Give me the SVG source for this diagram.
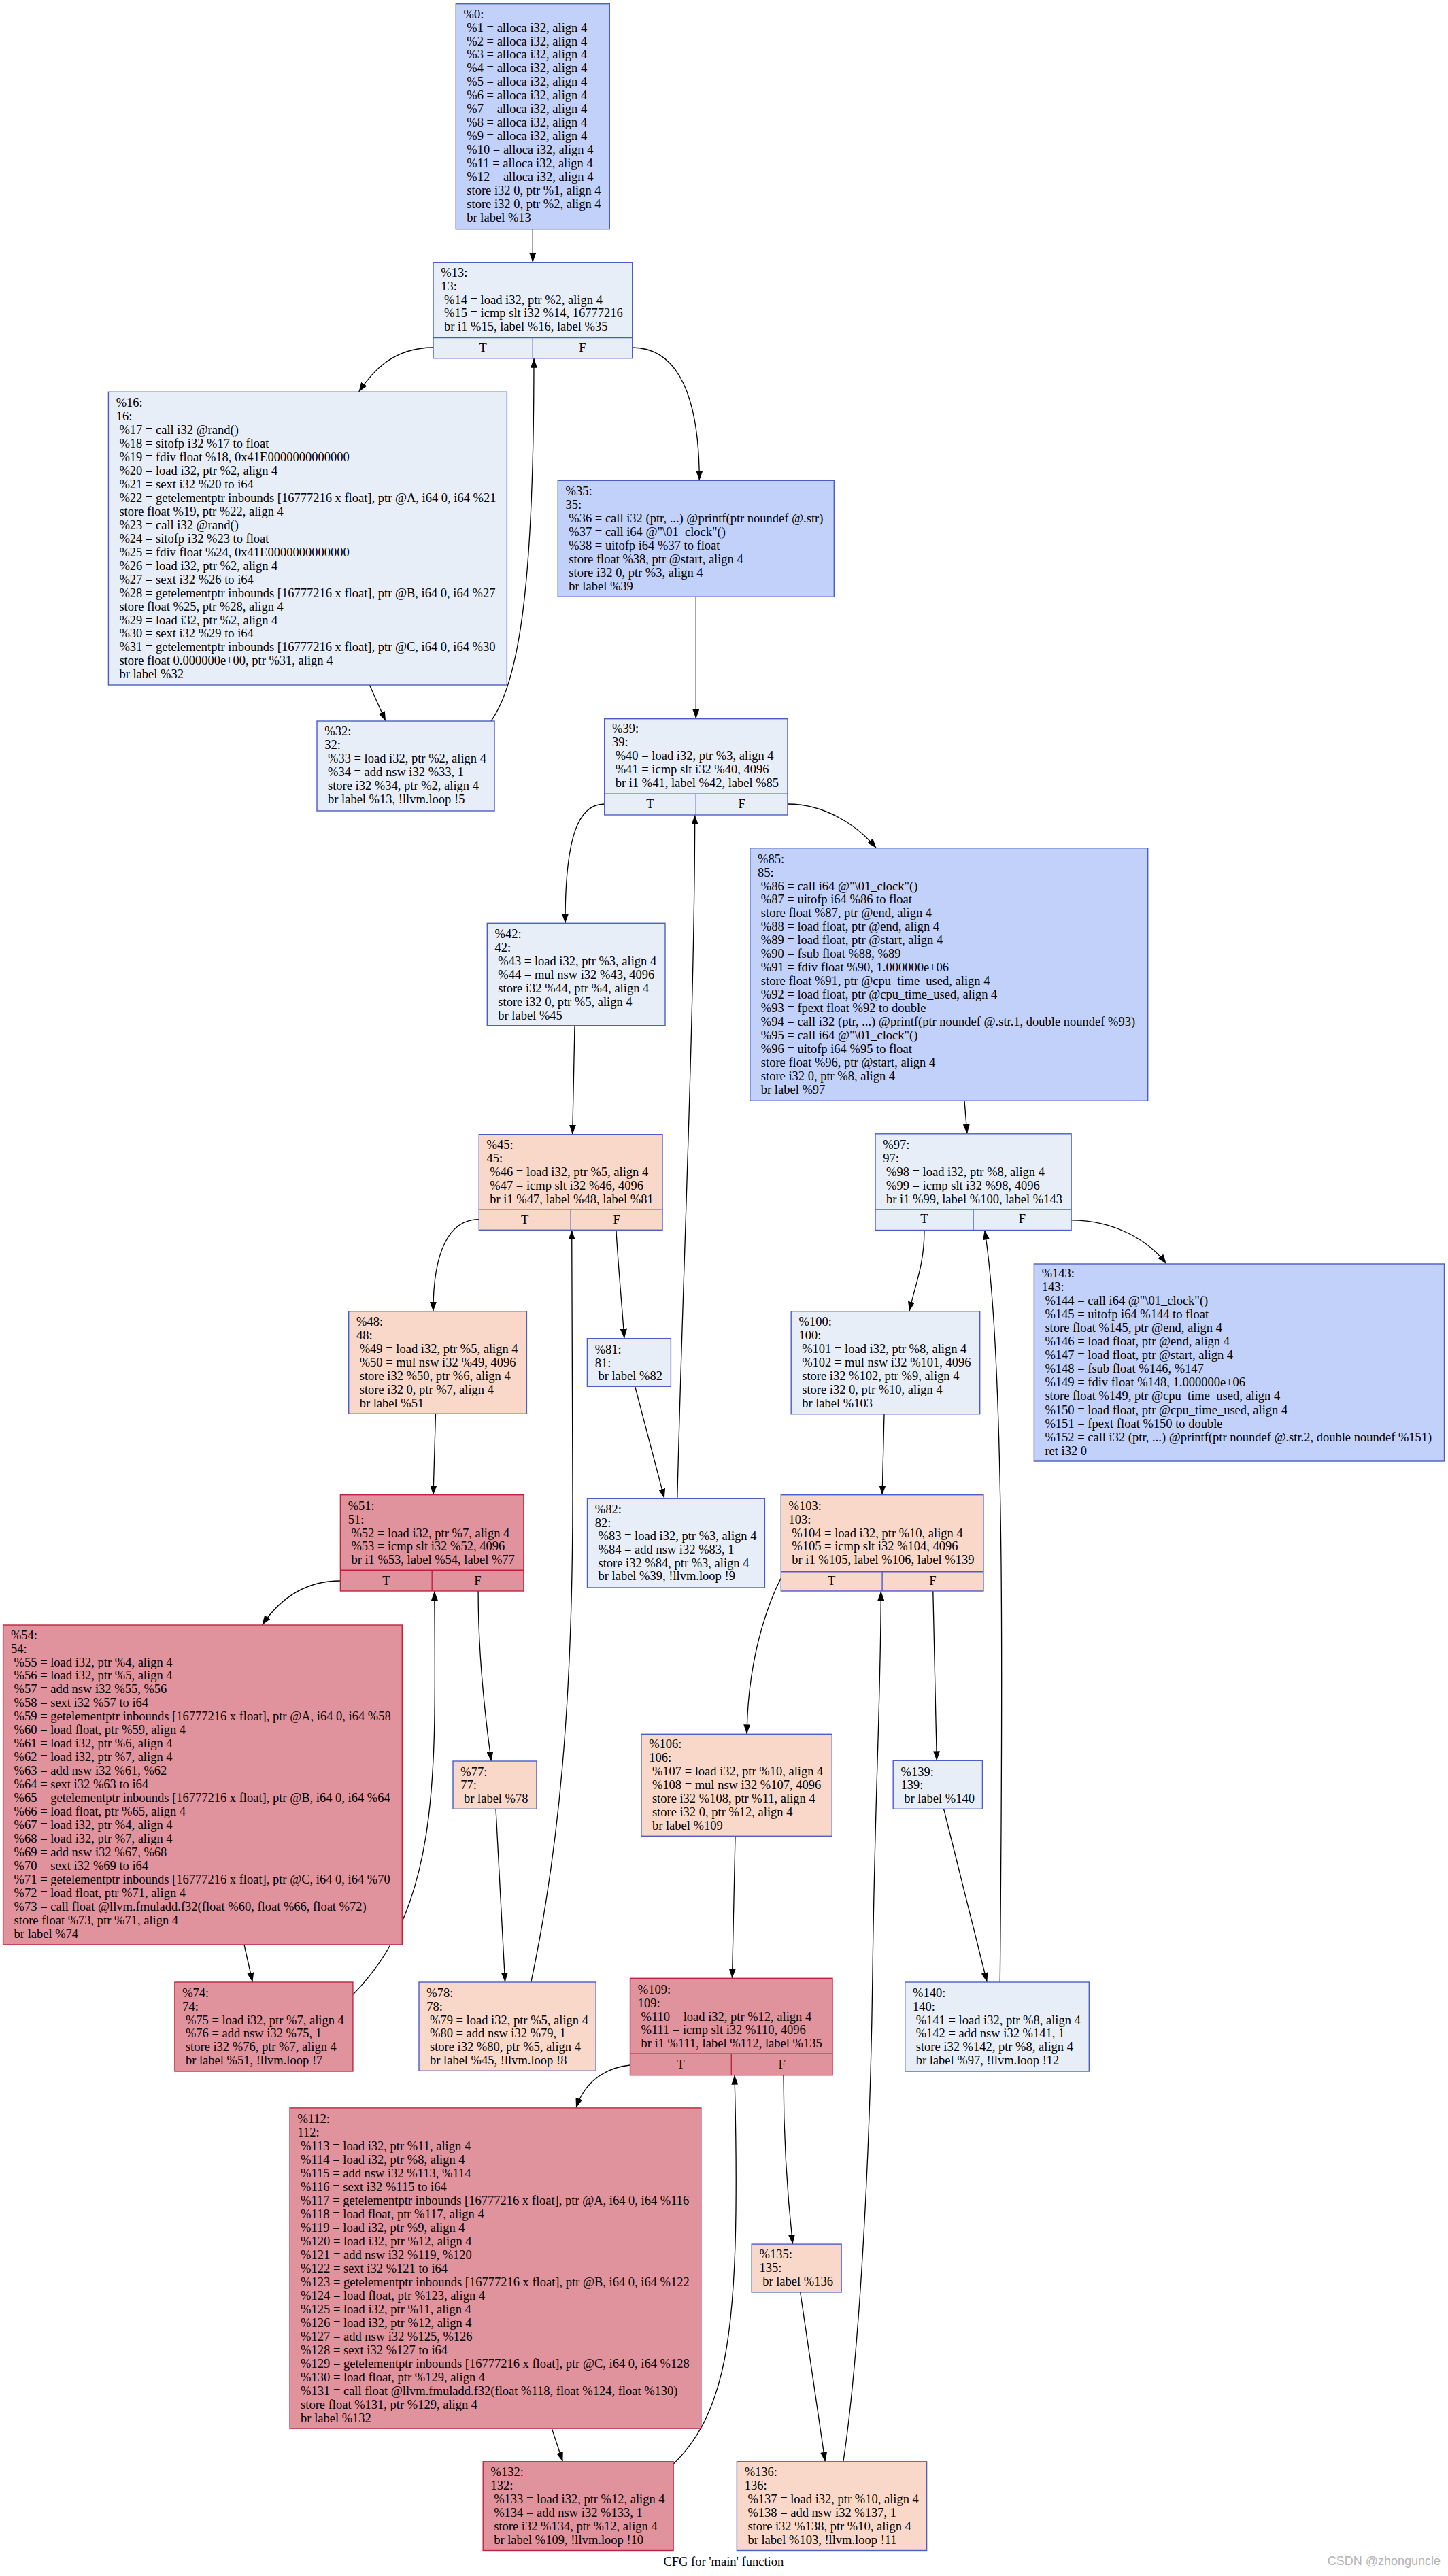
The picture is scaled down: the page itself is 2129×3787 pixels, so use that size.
<svg xmlns="http://www.w3.org/2000/svg" width="2129" height="3787" viewBox="0 0 2129 3787">
<defs>
<marker id="ah" markerUnits="userSpaceOnUse" markerWidth="14" markerHeight="10" refX="14" refY="5" orient="auto"><path d="M0,0 L14,5 L0,10 z" fill="#000"/></marker>
<style>
.t{font-family:"Liberation Serif","Times New Roman",serif;font-size:18.5px;fill:#000}
.m{text-anchor:middle}
.cb{stroke:#4a5dc9;stroke-width:1.4}
.hb{stroke:#c0233f;stroke-width:1.4}
.f1{fill:#c2d1f9}.f2{fill:#e8eef8}.f3{fill:#f9d8ca}.f4{fill:#e0929d}
.e{fill:none;stroke:#000;stroke-width:1.3;marker-end:url(#ah)}
.wm{font-family:"Liberation Sans",Arial,sans-serif;font-size:18px;fill:#b4b4b4;text-anchor:end}
</style>
</defs>
<rect width="2129" height="3787" fill="#fff"/>
<g id="edges">
<path class="e" d="M783.3,336.7 L783.3,385.7"/>
<path class="e" d="M637,511 C575,511 545,550 527.5,576.3"/>
<path class="e" d="M929.7,511 C985,511 1028,560 1028.3,706.3"/>
<path class="e" d="M543.3,1007 L567,1060"/>
<path class="e" d="M722,1060 C765,1000 785,850 785,526.7"/>
<path class="e" d="M1023.3,877.3 L1023.3,1056.7"/>
<path class="e" d="M888.7,1182 C850,1182 831,1230 831,1357.3"/>
<path class="e" d="M1158,1182 C1215,1182 1262,1215 1288.4,1246.7"/>
<path class="e" d="M995.8,2202.7 C1003,1900 1021,1500 1021.7,1198"/>
<path class="e" d="M845,1507.7 L841.7,1667.7"/>
<path class="e" d="M1418,1618.3 L1421.9,1666.8"/>
<path class="e" d="M704.3,1792.7 C660,1792.7 637,1840 636.9,1927.7"/>
<path class="e" d="M906,1808.3 C908,1850 913,1900 917.9,1967.7"/>
<path class="e" d="M780.8,2914 C822,2720 842,2500 842,2200 L840.7,1808.3"/>
<path class="e" d="M1359,1808.5 C1359,1860 1345,1890 1337,1927.7"/>
<path class="e" d="M1575.1,1793.8 C1640,1793.8 1690,1825 1714.8,1858"/>
<path class="e" d="M1470.3,2914 C1474,2500 1478,2000 1447.8,1808.5"/>
<path class="e" d="M640.5,2078.3 L637,2197.7"/>
<path class="e" d="M933.7,2038.3 L976.8,2202.7"/>
<path class="e" d="M1300,2078.7 L1297.1,2197.7"/>
<path class="e" d="M500.4,2324 C440,2324 405,2360 385.4,2389"/>
<path class="e" d="M703.1,2339 C703,2420 710,2500 722.3,2589"/>
<path class="e" d="M359,2859 L371.4,2914"/>
<path class="e" d="M518.9,2932.3 C650,2800 640,2600 638.8,2339"/>
<path class="e" d="M729,2659.3 L742.6,2914"/>
<path class="e" d="M1148.3,2320 C1138,2340 1100,2420 1098,2549.3"/>
<path class="e" d="M1371.8,2339 L1377.3,2588.3"/>
<path class="e" d="M1239.9,3618.8 C1265,3450 1280,3150 1283,2900 C1286,2650 1295,2500 1295.3,2339"/>
<path class="e" d="M1081,2699.3 L1076.5,2908.3"/>
<path class="e" d="M1387.6,2659.3 L1451.2,2914"/>
<path class="e" d="M926.5,3036 C885,3040 858,3065 847,3098.9"/>
<path class="e" d="M1152,3050.7 C1152,3150 1158,3230 1165.5,3299.1"/>
<path class="e" d="M811.3,3570.1 L827.4,3618.8"/>
<path class="e" d="M990.1,3622.4 C1060,3555 1080,3450 1082,3250 C1083,3150 1081,3100 1080,3050.7"/>
<path class="e" d="M1176.7,3369.9 L1213.2,3618.8"/>
</g>
<g id="n0"><rect class="cb f1" x="670.3" y="5.7" width="226" height="331"/>
<text class="t"><tspan x="681.6" y="26.6">%0:</tspan><tspan x="686.3" dy="19.95">%1 = alloca i32, align 4</tspan><tspan x="686.3" dy="19.95">%2 = alloca i32, align 4</tspan><tspan x="686.3" dy="19.95">%3 = alloca i32, align 4</tspan><tspan x="686.3" dy="19.95">%4 = alloca i32, align 4</tspan><tspan x="686.3" dy="19.95">%5 = alloca i32, align 4</tspan><tspan x="686.3" dy="19.95">%6 = alloca i32, align 4</tspan><tspan x="686.3" dy="19.95">%7 = alloca i32, align 4</tspan><tspan x="686.3" dy="19.95">%8 = alloca i32, align 4</tspan><tspan x="686.3" dy="19.95">%9 = alloca i32, align 4</tspan><tspan x="686.3" dy="19.95">%10 = alloca i32, align 4</tspan><tspan x="686.3" dy="19.95">%11 = alloca i32, align 4</tspan><tspan x="686.3" dy="19.95">%12 = alloca i32, align 4</tspan><tspan x="686.3" dy="19.95">store i32 0, ptr %1, align 4</tspan><tspan x="686.3" dy="19.95">store i32 0, ptr %2, align 4</tspan><tspan x="686.3" dy="19.95">br label %13</tspan></text></g>
<g id="n13"><rect class="cb f2" x="637" y="385.7" width="292.7" height="141"/><path class="cb" d="M637,496.6 H929.7 M783.3,496.6 V526.7"/>
<text class="t"><tspan x="648.3" y="406.9">%13:</tspan><tspan x="648.3" dy="19.85">13:</tspan><tspan x="653" dy="19.85">%14 = load i32, ptr %2, align 4</tspan><tspan x="653" dy="19.85">%15 = icmp slt i32 %14, 16777216</tspan><tspan x="653" dy="19.85">br i1 %15, label %16, label %35</tspan></text>
<text class="t m" x="710.2" y="517.3">T</text><text class="t m" x="856.5" y="517.3">F</text></g>
<g id="n16"><rect class="cb f2" x="159.4" y="576.3" width="586" height="430.7"/>
<text class="t"><tspan x="170.7" y="598">%16:</tspan><tspan x="170.7" dy="19.97">16:</tspan><tspan x="175.4" dy="19.97">%17 = call i32 @rand()</tspan><tspan x="175.4" dy="19.97">%18 = sitofp i32 %17 to float</tspan><tspan x="175.4" dy="19.97">%19 = fdiv float %18, 0x41E0000000000000</tspan><tspan x="175.4" dy="19.97">%20 = load i32, ptr %2, align 4</tspan><tspan x="175.4" dy="19.97">%21 = sext i32 %20 to i64</tspan><tspan x="175.4" dy="19.97">%22 = getelementptr inbounds [16777216 x float], ptr @A, i64 0, i64 %21</tspan><tspan x="175.4" dy="19.97">store float %19, ptr %22, align 4</tspan><tspan x="175.4" dy="19.97">%23 = call i32 @rand()</tspan><tspan x="175.4" dy="19.97">%24 = sitofp i32 %23 to float</tspan><tspan x="175.4" dy="19.97">%25 = fdiv float %24, 0x41E0000000000000</tspan><tspan x="175.4" dy="19.97">%26 = load i32, ptr %2, align 4</tspan><tspan x="175.4" dy="19.97">%27 = sext i32 %26 to i64</tspan><tspan x="175.4" dy="19.97">%28 = getelementptr inbounds [16777216 x float], ptr @B, i64 0, i64 %27</tspan><tspan x="175.4" dy="19.97">store float %25, ptr %28, align 4</tspan><tspan x="175.4" dy="19.97">%29 = load i32, ptr %2, align 4</tspan><tspan x="175.4" dy="19.97">%30 = sext i32 %29 to i64</tspan><tspan x="175.4" dy="19.97">%31 = getelementptr inbounds [16777216 x float], ptr @C, i64 0, i64 %30</tspan><tspan x="175.4" dy="19.97">store float 0.000000e+00, ptr %31, align 4</tspan><tspan x="175.4" dy="19.97">br label %32</tspan></text></g>
<g id="n32"><rect class="cb f2" x="466" y="1060" width="261" height="132"/>
<text class="t"><tspan x="477.3" y="1081.3">%32:</tspan><tspan x="477.3" dy="19.95">32:</tspan><tspan x="482" dy="19.95">%33 = load i32, ptr %2, align 4</tspan><tspan x="482" dy="19.95">%34 = add nsw i32 %33, 1</tspan><tspan x="482" dy="19.95">store i32 %34, ptr %2, align 4</tspan><tspan x="482" dy="19.95">br label %13, !llvm.loop !5</tspan></text></g>
<g id="n35"><rect class="cb f1" x="820.3" y="706.3" width="406" height="171"/>
<text class="t"><tspan x="831.6" y="728">%35:</tspan><tspan x="831.6" dy="19.95">35:</tspan><tspan x="836.3" dy="19.95">%36 = call i32 (ptr, ...) @printf(ptr noundef @.str)</tspan><tspan x="836.3" dy="19.95">%37 = call i64 @"\01_clock"()</tspan><tspan x="836.3" dy="19.95">%38 = uitofp i64 %37 to float</tspan><tspan x="836.3" dy="19.95">store float %38, ptr @start, align 4</tspan><tspan x="836.3" dy="19.95">store i32 0, ptr %3, align 4</tspan><tspan x="836.3" dy="19.95">br label %39</tspan></text></g>
<g id="n39"><rect class="cb f2" x="888.7" y="1056.7" width="269.3" height="141.3"/><path class="cb" d="M888.7,1167.3 H1158 M1023.3,1167.3 V1198"/>
<text class="t"><tspan x="900" y="1077.3">%39:</tspan><tspan x="900" dy="19.9">39:</tspan><tspan x="904.7" dy="19.9">%40 = load i32, ptr %3, align 4</tspan><tspan x="904.7" dy="19.9">%41 = icmp slt i32 %40, 4096</tspan><tspan x="904.7" dy="19.9">br i1 %41, label %42, label %85</tspan></text>
<text class="t m" x="956" y="1188">T</text><text class="t m" x="1090.6" y="1188">F</text></g>
<g id="n85"><rect class="cb f1" x="1102.8" y="1246.7" width="584.9" height="371.6"/>
<text class="t"><tspan x="1114.1" y="1268.6">%85:</tspan><tspan x="1114.1" dy="19.96">85:</tspan><tspan x="1118.8" dy="19.96">%86 = call i64 @"\01_clock"()</tspan><tspan x="1118.8" dy="19.96">%87 = uitofp i64 %86 to float</tspan><tspan x="1118.8" dy="19.96">store float %87, ptr @end, align 4</tspan><tspan x="1118.8" dy="19.96">%88 = load float, ptr @end, align 4</tspan><tspan x="1118.8" dy="19.96">%89 = load float, ptr @start, align 4</tspan><tspan x="1118.8" dy="19.96">%90 = fsub float %88, %89</tspan><tspan x="1118.8" dy="19.96">%91 = fdiv float %90, 1.000000e+06</tspan><tspan x="1118.8" dy="19.96">store float %91, ptr @cpu_time_used, align 4</tspan><tspan x="1118.8" dy="19.96">%92 = load float, ptr @cpu_time_used, align 4</tspan><tspan x="1118.8" dy="19.96">%93 = fpext float %92 to double</tspan><tspan x="1118.8" dy="19.96">%94 = call i32 (ptr, ...) @printf(ptr noundef @.str.1, double noundef %93)</tspan><tspan x="1118.8" dy="19.96">%95 = call i64 @"\01_clock"()</tspan><tspan x="1118.8" dy="19.96">%96 = uitofp i64 %95 to float</tspan><tspan x="1118.8" dy="19.96">store float %96, ptr @start, align 4</tspan><tspan x="1118.8" dy="19.96">store i32 0, ptr %8, align 4</tspan><tspan x="1118.8" dy="19.96">br label %97</tspan></text></g>
<g id="n42"><rect class="cb f2" x="716.3" y="1357.3" width="261.7" height="150.4"/>
<text class="t"><tspan x="727.6" y="1378.6">%42:</tspan><tspan x="727.6" dy="20">42:</tspan><tspan x="732.3" dy="20">%43 = load i32, ptr %3, align 4</tspan><tspan x="732.3" dy="20">%44 = mul nsw i32 %43, 4096</tspan><tspan x="732.3" dy="20">store i32 %44, ptr %4, align 4</tspan><tspan x="732.3" dy="20">store i32 0, ptr %5, align 4</tspan><tspan x="732.3" dy="20">br label %45</tspan></text></g>
<g id="n45"><rect class="cb f3" x="704.3" y="1667.7" width="269.7" height="140.6"/><path class="cb" d="M704.3,1777.7 H974 M839.2,1777.7 V1808.3"/>
<text class="t"><tspan x="715.6" y="1688.6">%45:</tspan><tspan x="715.6" dy="20.1">45:</tspan><tspan x="720.3" dy="20.1">%46 = load i32, ptr %5, align 4</tspan><tspan x="720.3" dy="20.1">%47 = icmp slt i32 %46, 4096</tspan><tspan x="720.3" dy="20.1">br i1 %47, label %48, label %81</tspan></text>
<text class="t m" x="771.7" y="1798.8">T</text><text class="t m" x="906.6" y="1798.8">F</text></g>
<g id="n97"><rect class="cb f2" x="1287" y="1666.8" width="288.1" height="141.7"/><path class="cb" d="M1287,1778 H1575.1 M1431,1778 V1808.5"/>
<text class="t"><tspan x="1298.3" y="1688.9">%97:</tspan><tspan x="1298.3" dy="19.9">97:</tspan><tspan x="1303" dy="19.9">%98 = load i32, ptr %8, align 4</tspan><tspan x="1303" dy="19.9">%99 = icmp slt i32 %98, 4096</tspan><tspan x="1303" dy="19.9">br i1 %99, label %100, label %143</tspan></text>
<text class="t m" x="1359" y="1798.1">T</text><text class="t m" x="1503" y="1798.1">F</text></g>
<g id="n143"><rect class="cb f1" x="1520.4" y="1858" width="603.1" height="290"/>
<text class="t"><tspan x="1531.7" y="1878.3">%143:</tspan><tspan x="1531.7" dy="20.02">143:</tspan><tspan x="1536.4" dy="20.02">%144 = call i64 @"\01_clock"()</tspan><tspan x="1536.4" dy="20.02">%145 = uitofp i64 %144 to float</tspan><tspan x="1536.4" dy="20.02">store float %145, ptr @end, align 4</tspan><tspan x="1536.4" dy="20.02">%146 = load float, ptr @end, align 4</tspan><tspan x="1536.4" dy="20.02">%147 = load float, ptr @start, align 4</tspan><tspan x="1536.4" dy="20.02">%148 = fsub float %146, %147</tspan><tspan x="1536.4" dy="20.02">%149 = fdiv float %148, 1.000000e+06</tspan><tspan x="1536.4" dy="20.02">store float %149, ptr @cpu_time_used, align 4</tspan><tspan x="1536.4" dy="20.02">%150 = load float, ptr @cpu_time_used, align 4</tspan><tspan x="1536.4" dy="20.02">%151 = fpext float %150 to double</tspan><tspan x="1536.4" dy="20.02">%152 = call i32 (ptr, ...) @printf(ptr noundef @.str.2, double noundef %151)</tspan><tspan x="1536.4" dy="20.02">ret i32 0</tspan></text></g>
<g id="n48"><rect class="cb f3" x="512.7" y="1927.7" width="261.7" height="150.6"/>
<text class="t"><tspan x="524" y="1948.6">%48:</tspan><tspan x="524" dy="20">48:</tspan><tspan x="528.7" dy="20">%49 = load i32, ptr %5, align 4</tspan><tspan x="528.7" dy="20">%50 = mul nsw i32 %49, 4096</tspan><tspan x="528.7" dy="20">store i32 %50, ptr %6, align 4</tspan><tspan x="528.7" dy="20">store i32 0, ptr %7, align 4</tspan><tspan x="528.7" dy="20">br label %51</tspan></text></g>
<g id="n81"><rect class="cb f2" x="863.4" y="1967.7" width="123" height="70.6"/>
<text class="t"><tspan x="874.7" y="1989.8">%81:</tspan><tspan x="874.7" dy="19.8">81:</tspan><tspan x="879.4" dy="19.8">br label %82</tspan></text></g>
<g id="n100"><rect class="cb f2" x="1163.2" y="1927.7" width="277.5" height="151"/>
<text class="t"><tspan x="1174.5" y="1948.6">%100:</tspan><tspan x="1174.5" dy="20">100:</tspan><tspan x="1179.2" dy="20">%101 = load i32, ptr %8, align 4</tspan><tspan x="1179.2" dy="20">%102 = mul nsw i32 %101, 4096</tspan><tspan x="1179.2" dy="20">store i32 %102, ptr %9, align 4</tspan><tspan x="1179.2" dy="20">store i32 0, ptr %10, align 4</tspan><tspan x="1179.2" dy="20">br label %103</tspan></text></g>
<g id="n51"><rect class="hb f4" x="500.4" y="2197.7" width="269.5" height="141.3"/><path class="hb" d="M500.4,2308.3 H769.9 M635.2,2308.3 V2339"/>
<text class="t"><tspan x="511.7" y="2220.3">%51:</tspan><tspan x="511.7" dy="19.7">51:</tspan><tspan x="516.4" dy="19.7">%52 = load i32, ptr %7, align 4</tspan><tspan x="516.4" dy="19.7">%53 = icmp slt i32 %52, 4096</tspan><tspan x="516.4" dy="19.7">br i1 %53, label %54, label %77</tspan></text>
<text class="t m" x="567.8" y="2330.1">T</text><text class="t m" x="702.5" y="2330.1">F</text></g>
<g id="n82"><rect class="cb f2" x="863.5" y="2202.7" width="260.9" height="131.3"/>
<text class="t"><tspan x="874.8" y="2224.8">%82:</tspan><tspan x="874.8" dy="19.7">82:</tspan><tspan x="879.5" dy="19.7">%83 = load i32, ptr %3, align 4</tspan><tspan x="879.5" dy="19.7">%84 = add nsw i32 %83, 1</tspan><tspan x="879.5" dy="19.7">store i32 %84, ptr %3, align 4</tspan><tspan x="879.5" dy="19.7">br label %39, !llvm.loop !9</tspan></text></g>
<g id="n103"><rect class="cb f3" x="1148.3" y="2197.7" width="297.6" height="141.3"/><path class="cb" d="M1148.3,2310.7 H1445.9 M1297.1,2310.7 V2339"/>
<text class="t"><tspan x="1159.6" y="2220.3">%103:</tspan><tspan x="1159.6" dy="19.7">103:</tspan><tspan x="1164.3" dy="19.7">%104 = load i32, ptr %10, align 4</tspan><tspan x="1164.3" dy="19.7">%105 = icmp slt i32 %104, 4096</tspan><tspan x="1164.3" dy="19.7">br i1 %105, label %106, label %139</tspan></text>
<text class="t m" x="1222.7" y="2330.4">T</text><text class="t m" x="1371.5" y="2330.4">F</text></g>
<g id="n54"><rect class="hb f4" x="4.6" y="2389" width="586.7" height="470"/>
<text class="t"><tspan x="15.9" y="2409.6">%54:</tspan><tspan x="15.9" dy="19.95">54:</tspan><tspan x="20.6" dy="19.95">%55 = load i32, ptr %4, align 4</tspan><tspan x="20.6" dy="19.95">%56 = load i32, ptr %5, align 4</tspan><tspan x="20.6" dy="19.95">%57 = add nsw i32 %55, %56</tspan><tspan x="20.6" dy="19.95">%58 = sext i32 %57 to i64</tspan><tspan x="20.6" dy="19.95">%59 = getelementptr inbounds [16777216 x float], ptr @A, i64 0, i64 %58</tspan><tspan x="20.6" dy="19.95">%60 = load float, ptr %59, align 4</tspan><tspan x="20.6" dy="19.95">%61 = load i32, ptr %6, align 4</tspan><tspan x="20.6" dy="19.95">%62 = load i32, ptr %7, align 4</tspan><tspan x="20.6" dy="19.95">%63 = add nsw i32 %61, %62</tspan><tspan x="20.6" dy="19.95">%64 = sext i32 %63 to i64</tspan><tspan x="20.6" dy="19.95">%65 = getelementptr inbounds [16777216 x float], ptr @B, i64 0, i64 %64</tspan><tspan x="20.6" dy="19.95">%66 = load float, ptr %65, align 4</tspan><tspan x="20.6" dy="19.95">%67 = load i32, ptr %4, align 4</tspan><tspan x="20.6" dy="19.95">%68 = load i32, ptr %7, align 4</tspan><tspan x="20.6" dy="19.95">%69 = add nsw i32 %67, %68</tspan><tspan x="20.6" dy="19.95">%70 = sext i32 %69 to i64</tspan><tspan x="20.6" dy="19.95">%71 = getelementptr inbounds [16777216 x float], ptr @C, i64 0, i64 %70</tspan><tspan x="20.6" dy="19.95">%72 = load float, ptr %71, align 4</tspan><tspan x="20.6" dy="19.95">%73 = call float @llvm.fmuladd.f32(float %60, float %66, float %72)</tspan><tspan x="20.6" dy="19.95">store float %73, ptr %71, align 4</tspan><tspan x="20.6" dy="19.95">br label %74</tspan></text></g>
<g id="n77"><rect class="cb f3" x="666" y="2589" width="123" height="70.3"/>
<text class="t"><tspan x="677.3" y="2610.6">%77:</tspan><tspan x="677.3" dy="19.8">77:</tspan><tspan x="682" dy="19.8">br label %78</tspan></text></g>
<g id="n106"><rect class="cb f3" x="942.9" y="2549.3" width="280.4" height="150"/>
<text class="t"><tspan x="954.2" y="2570.3">%106:</tspan><tspan x="954.2" dy="19.95">106:</tspan><tspan x="958.9" dy="19.95">%107 = load i32, ptr %10, align 4</tspan><tspan x="958.9" dy="19.95">%108 = mul nsw i32 %107, 4096</tspan><tspan x="958.9" dy="19.95">store i32 %108, ptr %11, align 4</tspan><tspan x="958.9" dy="19.95">store i32 0, ptr %12, align 4</tspan><tspan x="958.9" dy="19.95">br label %109</tspan></text></g>
<g id="n139"><rect class="cb f2" x="1313.2" y="2588.3" width="131.2" height="71"/>
<text class="t"><tspan x="1324.5" y="2610.6">%139:</tspan><tspan x="1324.5" dy="19.8">139:</tspan><tspan x="1329.2" dy="19.8">br label %140</tspan></text></g>
<g id="n74"><rect class="hb f4" x="256.9" y="2914" width="262" height="131"/>
<text class="t"><tspan x="268.2" y="2936.3">%74:</tspan><tspan x="268.2" dy="19.7">74:</tspan><tspan x="272.9" dy="19.7">%75 = load i32, ptr %7, align 4</tspan><tspan x="272.9" dy="19.7">%76 = add nsw i32 %75, 1</tspan><tspan x="272.9" dy="19.7">store i32 %76, ptr %7, align 4</tspan><tspan x="272.9" dy="19.7">br label %51, !llvm.loop !7</tspan></text></g>
<g id="n78"><rect class="cb f3" x="616" y="2914" width="260.2" height="130.3"/>
<text class="t"><tspan x="627.3" y="2936.3">%78:</tspan><tspan x="627.3" dy="19.7">78:</tspan><tspan x="632" dy="19.7">%79 = load i32, ptr %5, align 4</tspan><tspan x="632" dy="19.7">%80 = add nsw i32 %79, 1</tspan><tspan x="632" dy="19.7">store i32 %80, ptr %5, align 4</tspan><tspan x="632" dy="19.7">br label %45, !llvm.loop !8</tspan></text></g>
<g id="n109"><rect class="hb f4" x="926.5" y="2908.3" width="297.5" height="142.4"/><path class="hb" d="M926.5,3019.3 H1224 M1075.3,3019.3 V3050.7"/>
<text class="t"><tspan x="937.8" y="2931.3">%109:</tspan><tspan x="937.8" dy="19.6">109:</tspan><tspan x="942.5" dy="19.6">%110 = load i32, ptr %12, align 4</tspan><tspan x="942.5" dy="19.6">%111 = icmp slt i32 %110, 4096</tspan><tspan x="942.5" dy="19.6">br i1 %111, label %112, label %135</tspan></text>
<text class="t m" x="1000.9" y="3041.1">T</text><text class="t m" x="1149.6" y="3041.1">F</text></g>
<g id="n140"><rect class="cb f2" x="1330.7" y="2914" width="270.6" height="131"/>
<text class="t"><tspan x="1342" y="2936.3">%140:</tspan><tspan x="1342" dy="19.7">140:</tspan><tspan x="1346.7" dy="19.7">%141 = load i32, ptr %8, align 4</tspan><tspan x="1346.7" dy="19.7">%142 = add nsw i32 %141, 1</tspan><tspan x="1346.7" dy="19.7">store i32 %142, ptr %8, align 4</tspan><tspan x="1346.7" dy="19.7">br label %97, !llvm.loop !12</tspan></text></g>
<g id="n112"><rect class="hb f4" x="426.1" y="3098.9" width="604.7" height="471.2"/>
<text class="t"><tspan x="437.4" y="3121">%112:</tspan><tspan x="437.4" dy="19.98">112:</tspan><tspan x="442.1" dy="19.98">%113 = load i32, ptr %11, align 4</tspan><tspan x="442.1" dy="19.98">%114 = load i32, ptr %8, align 4</tspan><tspan x="442.1" dy="19.98">%115 = add nsw i32 %113, %114</tspan><tspan x="442.1" dy="19.98">%116 = sext i32 %115 to i64</tspan><tspan x="442.1" dy="19.98">%117 = getelementptr inbounds [16777216 x float], ptr @A, i64 0, i64 %116</tspan><tspan x="442.1" dy="19.98">%118 = load float, ptr %117, align 4</tspan><tspan x="442.1" dy="19.98">%119 = load i32, ptr %9, align 4</tspan><tspan x="442.1" dy="19.98">%120 = load i32, ptr %12, align 4</tspan><tspan x="442.1" dy="19.98">%121 = add nsw i32 %119, %120</tspan><tspan x="442.1" dy="19.98">%122 = sext i32 %121 to i64</tspan><tspan x="442.1" dy="19.98">%123 = getelementptr inbounds [16777216 x float], ptr @B, i64 0, i64 %122</tspan><tspan x="442.1" dy="19.98">%124 = load float, ptr %123, align 4</tspan><tspan x="442.1" dy="19.98">%125 = load i32, ptr %11, align 4</tspan><tspan x="442.1" dy="19.98">%126 = load i32, ptr %12, align 4</tspan><tspan x="442.1" dy="19.98">%127 = add nsw i32 %125, %126</tspan><tspan x="442.1" dy="19.98">%128 = sext i32 %127 to i64</tspan><tspan x="442.1" dy="19.98">%129 = getelementptr inbounds [16777216 x float], ptr @C, i64 0, i64 %128</tspan><tspan x="442.1" dy="19.98">%130 = load float, ptr %129, align 4</tspan><tspan x="442.1" dy="19.98">%131 = call float @llvm.fmuladd.f32(float %118, float %124, float %130)</tspan><tspan x="442.1" dy="19.98">store float %131, ptr %129, align 4</tspan><tspan x="442.1" dy="19.98">br label %132</tspan></text></g>
<g id="n135"><rect class="cb f3" x="1105.2" y="3299.1" width="131.9" height="70.8"/>
<text class="t"><tspan x="1116.5" y="3320.3">%135:</tspan><tspan x="1116.5" dy="19.8">135:</tspan><tspan x="1121.2" dy="19.8">br label %136</tspan></text></g>
<g id="n132"><rect class="hb f4" x="710.2" y="3618.8" width="279.9" height="130.7"/>
<text class="t"><tspan x="721.5" y="3639.9">%132:</tspan><tspan x="721.5" dy="20">132:</tspan><tspan x="726.2" dy="20">%133 = load i32, ptr %12, align 4</tspan><tspan x="726.2" dy="20">%134 = add nsw i32 %133, 1</tspan><tspan x="726.2" dy="20">store i32 %134, ptr %12, align 4</tspan><tspan x="726.2" dy="20">br label %109, !llvm.loop !10</tspan></text></g>
<g id="n136"><rect class="cb f3" x="1083.4" y="3618.8" width="279.2" height="130.7"/>
<text class="t"><tspan x="1094.7" y="3639.9">%136:</tspan><tspan x="1094.7" dy="20">136:</tspan><tspan x="1099.4" dy="20">%137 = load i32, ptr %10, align 4</tspan><tspan x="1099.4" dy="20">%138 = add nsw i32 %137, 1</tspan><tspan x="1099.4" dy="20">store i32 %138, ptr %10, align 4</tspan><tspan x="1099.4" dy="20">br label %103, !llvm.loop !11</tspan></text></g>
<text class="t m" x="1063.8" y="3771.5">CFG for 'main' function</text>
<text class="wm" x="2118" y="3771">CSDN @zhonguncle</text>
</svg>
